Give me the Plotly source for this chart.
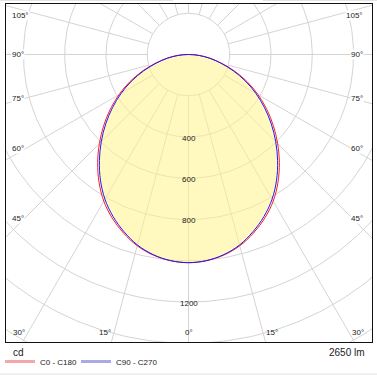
import numpy as np
import plotly.graph_objects as go

# ---------------- data ----------------
gamma_deg = [0, 5, 10, 15, 20, 25, 30, 35, 40, 45, 50, 55, 60, 65, 70, 75, 80, 85, 90]
c0_c180 = [1009, 1003, 987, 960, 921, 875, 821, 756, 685, 611, 537, 463, 389, 315, 240, 168, 108, 52, 0]
c90_c270 = [1009, 1003, 985, 956, 914, 866, 810, 744, 672, 598, 524, 450, 377, 304, 231, 162, 104, 50, 0]
series_names = ["C0 - C180", "C90 - C270"]
ring_values = [200, 400, 600, 800, 1000, 1200, 1400, 1600, 1800]
ring_labels = [400, 600, 800, 1200]
angle_ticks = [0, 15, 30, 45, 60, 75, 90, 105]
unit_label = "cd"
flux_label = "2650 lm"

# ---------------- layout geometry / style ----------------
W, H = 377, 375
ML, MR, MT, MB = 6, 5, 4, 33
PX_PER_CD = 0.2063
CX_PX, CY_PX = 188.5, 54.5
FONT = "Liberation Sans, Arial, sans-serif"
TXT = "#222222"
GRID = "#d4d4d4"
RED = "#ff1a1a"
BLUE = "#1a1aff"

plot_w = W - ML - MR
plot_h = H - MT - MB
x0 = -(CX_PX - ML) / PX_PER_CD
x1 = x0 + plot_w / PX_PER_CD
y1 = (CY_PX - MT) / PX_PER_CD
y0 = y1 - plot_h / PX_PER_CD


def px_to_data_x(px):
    return (px - CX_PX) / PX_PER_CD


def px_to_data_y(py):
    return (CY_PX - py) / PX_PER_CD


def px_to_paper_x(px):
    return (px - ML) / plot_w


def px_to_paper_y(py):
    return (H - MB - py) / plot_h


def curve_xy(values):
    g = np.radians(np.array(gamma_deg, float))
    v = np.array(values, float)
    ang = np.concatenate([-g[::-1], g[1:]])
    r = np.concatenate([v[::-1], v[1:]])
    return r * np.sin(ang), -r * np.cos(ang)


fig = go.Figure()

# grid rings
t = np.linspace(0, 2 * np.pi, 361)
gx, gy = [], []
for R in ring_values:
    gx += list(R * np.sin(t)) + [None]
    gy += list(R * np.cos(t)) + [None]
fig.add_trace(go.Scatter(x=gx, y=gy, mode="lines", line=dict(color=GRID, width=1),
                         hoverinfo="skip", showlegend=False))
# radial lines (from first ring outward)
rx, ry = [], []
for a in range(0, 360, 15):
    ar = np.radians(a)
    for R in (ring_values[0], ring_values[-1] + 400):
        rx.append(R * np.sin(ar))
        ry.append(-R * np.cos(ar))
    rx.append(None)
    ry.append(None)
fig.add_trace(go.Scatter(x=rx, y=ry, mode="lines", line=dict(color=GRID, width=1),
                         hoverinfo="skip", showlegend=False))

# fill (C90 - C270 envelope)
bx, by = curve_xy(c90_c270)
fig.add_trace(go.Scatter(x=bx, y=by, mode="lines", fill="toself",
                         fillcolor="rgba(255,244,140,0.55)",
                         line=dict(width=0, color="rgba(0,0,0,0)", shape="spline"),
                         hoverinfo="skip", showlegend=False))

# curves
rxx, ryy = curve_xy(c0_c180)
fig.add_trace(go.Scatter(x=rxx, y=ryy, mode="lines", line=dict(color=RED, width=1, shape="spline"),
                         name=series_names[0], showlegend=False))
fig.add_trace(go.Scatter(x=bx, y=by, mode="lines", line=dict(color=BLUE, width=1, shape="spline"),
                         name=series_names[1], showlegend=False))

# legend entries (light swatches as in the reference)
fig.add_trace(go.Scatter(x=[None], y=[None], mode="lines", line=dict(color="#f0a8a8", width=3),
                         name=series_names[0]))
fig.add_trace(go.Scatter(x=[None], y=[None], mode="lines", line=dict(color="#aaaae6", width=3),
                         name=series_names[1]))
# invisible spacer entry so the last legend label is not clipped
fig.add_trace(go.Scatter(x=[None], y=[None], mode="lines", line=dict(color="rgba(0,0,0,0)", width=0),
                         name=" ", hoverinfo="skip"))

annotations = []
# intensity labels on the 0° axis
for v in ring_labels:
    annotations.append(dict(x=0, y=-v, text=str(v), showarrow=False, xanchor="center",
                            yanchor="middle", yshift=-1, font=dict(size=8, color=TXT, family=FONT)))

# angle labels where the radial lines meet an inset frame
line_in = px_to_data_x(W - MR - 20)
side_left = px_to_data_x(ML + 5)
side_right = px_to_data_x(W - MR - 8)
bottom_in = px_to_data_y(H - MB - 10)
top_in = px_to_data_y(MT + 11)
for a in angle_ticks:
    ar = np.radians(a)
    s, c = np.sin(ar), np.cos(ar)
    if a <= 30:
        yy = bottom_in
        xx = (-yy / c) * s
        for sign in ([1] if a == 0 else [-1, 1]):
            annotations.append(dict(x=sign * xx, y=yy, text=f"{a}°", showarrow=False,
                                    xanchor="center" if a == 0 else ("right" if sign < 0 else "left"),
                                    xshift=0 if a == 0 else sign * 1,
                                    yanchor="middle", font=dict(size=8, color=TXT, family=FONT)))
    else:
        yy = min(-c * line_in / s, top_in)
        for sign, xpos, anchor in ((-1, side_left, "left"), (1, side_right, "right")):
            annotations.append(dict(x=xpos, y=yy, text=f"{a}°", showarrow=False,
                                    xanchor=anchor, yanchor="middle",
                                    bgcolor="white", borderpad=0,
                                    font=dict(size=8, color=TXT, family=FONT)))

annotations.append(dict(xref="paper", yref="paper", x=px_to_paper_x(11), y=px_to_paper_y(352),
                        text=unit_label, showarrow=False, xanchor="left", yanchor="middle",
                        font=dict(size=10, color=TXT, family=FONT)))
annotations.append(dict(xref="paper", yref="paper", x=px_to_paper_x(367), y=px_to_paper_y(352),
                        text=flux_label, showarrow=False, xanchor="right", yanchor="middle",
                        font=dict(size=10, color=TXT, family=FONT)))

shapes = [
    dict(type="line", xref="paper", yref="paper", x0=px_to_paper_x(0), x1=px_to_paper_x(173),
         y0=px_to_paper_y(0.5), y1=px_to_paper_y(0.5), line=dict(color="#e2e2e2", width=1)),
    dict(type="line", xref="paper", yref="paper", x0=px_to_paper_x(263), x1=px_to_paper_x(377),
         y0=px_to_paper_y(0.5), y1=px_to_paper_y(0.5), line=dict(color="#e2e2e2", width=1)),
    dict(type="line", xref="paper", yref="paper", x0=px_to_paper_x(0), x1=px_to_paper_x(377),
         y0=px_to_paper_y(374), y1=px_to_paper_y(374), line=dict(color="#e2e2e2", width=1)),
]

axis_common = dict(showgrid=False, zeroline=False, showticklabels=False, ticks="",
                   showline=True, mirror=True, linecolor="#111111", linewidth=1, fixedrange=True)
fig.update_layout(
    width=W, height=H, autosize=False,
    margin=dict(l=ML, r=MR, t=MT, b=MB, pad=0, autoexpand=False),
    paper_bgcolor="white", plot_bgcolor="white",
    xaxis=dict(range=[x0, x1], **axis_common),
    yaxis=dict(range=[y0, y1], **axis_common),
    annotations=annotations, shapes=shapes,
    showlegend=True,
    legend=dict(orientation="h", xref="container", yref="container",
                x=-3 / W, y=1 - 347 / H, xanchor="left", yanchor="top",
                font=dict(size=8, color=TXT, family=FONT),
                bgcolor="rgba(0,0,0,0)", borderwidth=0, itemwidth=30, tracegroupgap=0,
                entrywidth=31, entrywidthmode="pixels"),
    font=dict(family=FONT, color=TXT),
)

fig.write_html("out.html", config=dict(displayModeBar=False),
               post_script="document.documentElement.style.margin='0';"
                           "document.body.style.margin='0';document.body.style.overflow='hidden';")
